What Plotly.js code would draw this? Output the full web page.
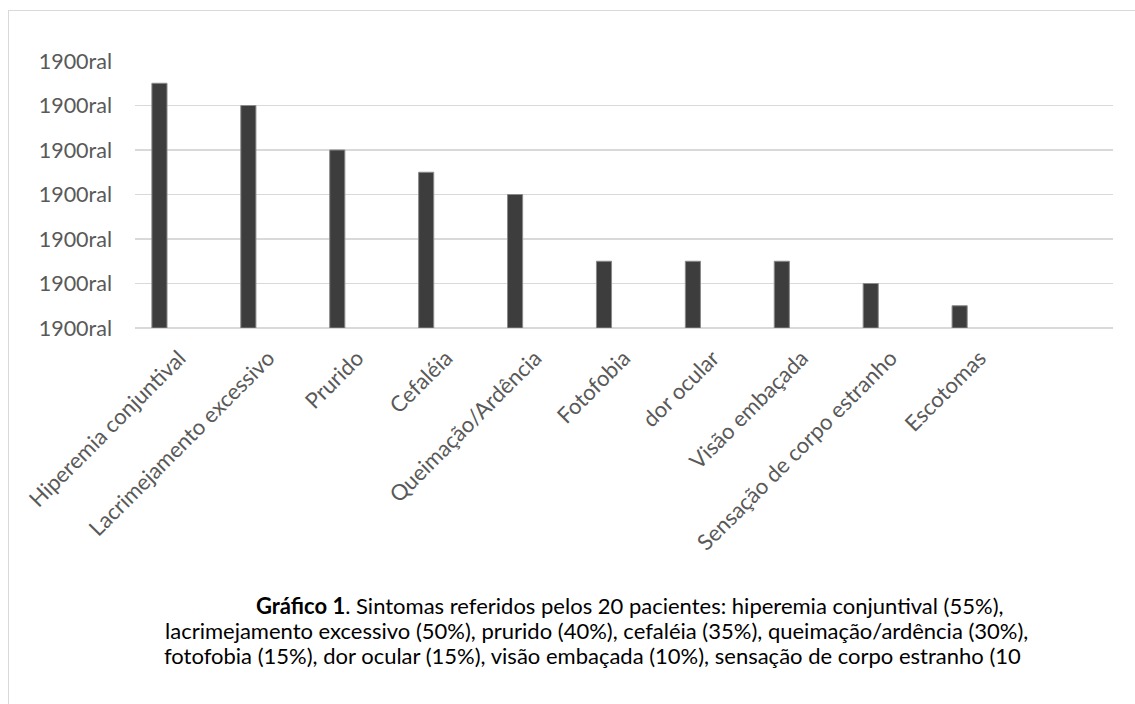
<!DOCTYPE html>
<html>
<head>
<meta charset="utf-8">
<script src="https://cdn.plot.ly/plotly-3.0.1.min.js"></script>
<style>
  html, body { margin: 0; padding: 0; background: #fff; }
  #wrap { position: relative; width: 1135px; height: 704px; }
  #frame { position: absolute; left: 8px; top: 10px; width: 1200px; height: 800px;
           border-left: 1.5px solid #d9d9d9; border-top: 1.5px solid #d9d9d9; pointer-events: none; }
  #chart { position: absolute; left: 0; top: 0; width: 1135px; height: 704px; }
</style>
</head>
<body>
<div id="wrap">
  <div id="chart"></div>
  <div id="frame"></div>
</div>
<script>
const categories = [
  "Hiperemia conjuntival",
  "Lacrimejamento excessivo",
  "Prurido",
  "Cefaléia",
  "Queimação/Ardência",
  "Fotofobia",
  "dor ocular",
  "Visão embaçada",
  "Sensação de corpo estranho",
  "Escotomas"
];
const patients = [11, 10, 8, 7, 6, 3, 3, 3, 2, 1];
const yTickValues = [0, 2, 4, 6, 8, 10, 12];
const yTickLabels = ["1900ral", "1900ral", "1900ral", "1900ral", "1900ral", "1900ral", "1900ral"];
const captionLines = [
  "<b>Gráfico 1</b>. Sintomas referidos pelos 20 pacientes: hiperemia conjuntival (55%),",
  "lacrimejamento excessivo (50%), prurido (40%), cefaléia (35%), queimação/ardência (30%),",
  "fotofobia (15%), dor ocular (15%), visão embaçada (10%), sensação de corpo estranho (10"
];
const captionCenters = [630, 596, 592];

const font = "Lato, 'Open Sans', sans-serif";

const trace = {
  type: "bar",
  x: categories,
  y: patients,
  width: 0.17,
  offset: -0.31,
  marker: { color: "#3d3d3d", line: { color: "#8a8a8a", width: 1 } },
  hoverinfo: "x+y"
};

const annotations = captionLines.map((t, i) => ({
  xref: "paper", yref: "paper",
  x: (captionCenters[i] - 135) / (1113 - 135),
  y: -(605 + i * 25 - 328) / (328 - 61),
  xanchor: "center", yanchor: "middle",
  text: t, showarrow: false,
  font: { family: font, size: 22, color: "#000" }
}));

const layout = {
  width: 1135, height: 704,
  margin: { l: 135, r: 22, t: 61, b: 376 },
  paper_bgcolor: "#ffffff",
  plot_bgcolor: "#ffffff",
  showlegend: false,
  bargap: 0,
  xaxis: {
    type: "category",
    range: [-0.5, 10.5],
    tickangle: -45,
    ticks: "",
    showgrid: false,
    showline: false,
    zeroline: false,
    tickfont: { family: font, size: 22, color: "#595959" },
    ticklabelstandoff: 12,
    fixedrange: true
  },
  yaxis: {
    range: [0, 12],
    tickvals: yTickValues,
    ticktext: yTickLabels,
    showgrid: true,
    gridcolor: "#d9d9d9",
    gridwidth: 1.5,
    zeroline: true,
    zerolinecolor: "#d9d9d9",
    zerolinewidth: 1.5,
    showline: false,
    ticks: "",
    tickfont: { family: font, size: 21.5, color: "#595959" },
    ticklabelstandoff: 22,
    fixedrange: true
  },
  annotations: annotations
};

Plotly.newPlot("chart", [trace], layout, { displayModeBar: false, staticPlot: true });
</script>
</body>
</html>
